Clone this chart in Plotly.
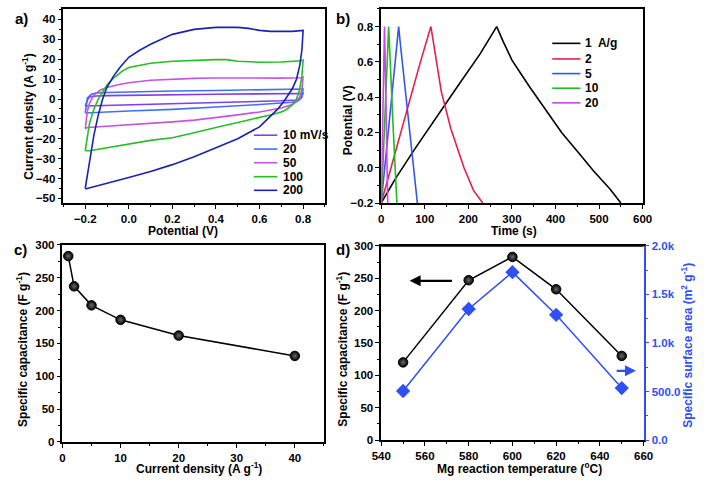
import plotly.graph_objects as go

# ---------------- data ----------------
# (a) CV curves: forward (anodic) and reverse branches
cv_labels = ["10 mV/s", "20", "50", "100", "200"]
cv_colors = ["#7f3fe6", "#3f6fff", "#c455e0", "#22c022", "#1a22b0"]

cv10_fv = [-0.2, -0.19, -0.18, -0.15, -0.1, 0.0, 0.2, 0.4, 0.6, 0.79, 0.8]
cv10_fj = [-3.5, -0.5, 1.0, 1.5, 1.7, 1.9, 2.2, 2.4, 2.6, 2.8, 2.8]
cv10_rv = [0.8, 0.79, 0.77, 0.7, 0.6, 0.4, 0.2, 0.0, -0.1, -0.2]
cv10_rj = [2.8, 0.5, -0.5, -0.9, -1.2, -1.8, -2.4, -2.9, -3.2, -3.5]

cv20_fv = [-0.2, -0.195, -0.19, -0.17, -0.15, -0.1, 0.0, 0.2, 0.4, 0.6, 0.79, 0.8]
cv20_fj = [-7.0, -3.0, 0.5, 2.5, 3.0, 3.3, 3.6, 4.0, 4.3, 4.6, 4.8, 5.0]
cv20_rv = [0.8, 0.795, 0.78, 0.75, 0.7, 0.6, 0.4, 0.2, 0.0, -0.1, -0.2]
cv20_rj = [5.0, 1.0, -0.8, -1.6, -2.0, -2.8, -4.0, -5.2, -6.0, -6.5, -7.0]

cv50_fv = [-0.2, -0.195, -0.19, -0.18, -0.16, -0.13, -0.1, -0.05, 0.0, 0.1, 0.2, 0.3, 0.4, 0.5, 0.6, 0.7, 0.79, 0.8]
cv50_fj = [-15, -10, -6, -2, 2, 4.5, 5.8, 7.2, 8.2, 9.4, 10.0, 10.4, 10.6, 10.5, 10.4, 10.5, 10.7, 11.0]
cv50_rv = [0.8, 0.795, 0.785, 0.77, 0.75, 0.7, 0.6, 0.5, 0.4, 0.3, 0.2, 0.1, 0.0, -0.1, -0.19, -0.2]
cv50_rj = [11, 5, 1, -1.5, -2.8, -4.5, -6.5, -8, -9.3, -10.6, -11.5, -12.3, -13, -13.8, -14.3, -15]

cv100_fv = [-0.2, -0.19, -0.18, -0.16, -0.14, -0.12, -0.1, -0.07, -0.03, 0.0, 0.05, 0.1, 0.2, 0.3, 0.4, 0.45, 0.5, 0.6, 0.7, 0.79, 0.8]
cv100_fj = [-26, -18, -12, -5, 0, 3.5, 7, 10.5, 14, 15.8, 17, 18, 19, 19.5, 19.8, 19.8, 19, 18.5, 18.6, 19.2, 19.6]
cv100_rv = [0.8, 0.795, 0.785, 0.77, 0.75, 0.72, 0.7, 0.65, 0.6, 0.5, 0.4, 0.3, 0.2, 0.1, 0.0, -0.1, -0.18, -0.2]
cv100_rj = [19.6, 12, 5, 0, -3, -5.5, -6.5, -8, -9.2, -11.8, -14.3, -17, -19.5, -20.8, -22.8, -24.5, -26, -26]

cv200_fv = [-0.2, -0.19, -0.18, -0.16, -0.14, -0.12, -0.1, -0.07, -0.04, 0.0, 0.05, 0.1, 0.2, 0.3, 0.4, 0.5, 0.55, 0.6, 0.65, 0.7, 0.75, 0.8]
cv200_fj = [-45, -38, -30, -18, -8, 0, 6, 11.5, 16, 21, 24.5, 27.5, 32.5, 35, 36, 36, 35.5, 34.5, 34, 34, 34, 34.5]
cv200_rv = [0.8, 0.795, 0.785, 0.77, 0.75, 0.73, 0.71, 0.68, 0.64, 0.6, 0.5, 0.4, 0.3, 0.2, 0.1, 0.0, -0.1, -0.2]
cv200_rj = [34.5, 25, 17, 10, 5, 1.5, -1.5, -5.5, -10, -14, -20, -24.5, -29, -33, -36.5, -39.5, -42.5, -45.3]

# (b) galvanostatic charge/discharge
gcd_labels = ["1  A/g", "2", "5", "10", "20"]
gcd_colors = ["#000000", "#e8204a", "#3355ee", "#22bb22", "#cc44ee"]
gcd1_t = [0, 10, 33, 78, 127, 175, 227, 265, 280, 300, 340, 376, 414, 451, 488, 525, 550]
gcd1_v = [-0.2, -0.16, -0.06, 0.11, 0.29, 0.46, 0.645, 0.8, 0.715, 0.61, 0.46, 0.33, 0.2, 0.09, -0.02, -0.12, -0.2]
gcd2_t = [0, 10, 30, 60, 90, 114, 123, 138, 160, 190, 212, 233]
gcd2_v = [-0.2, -0.11, 0.07, 0.34, 0.6, 0.8, 0.66, 0.43, 0.22, 0.0, -0.13, -0.2]
gcd5_t = [0, 4, 20, 40, 44, 55, 65, 75, 83]
gcd5_v = [-0.2, -0.1, 0.33, 0.8, 0.7, 0.45, 0.22, 0.02, -0.2]
gcd10_t = [0, 2, 17, 19, 27, 36]
gcd10_v = [-0.2, -0.1, 0.8, 0.68, 0.25, -0.2]
gcd20_t = [0, 1, 7.5, 8.5, 15]
gcd20_v = [-0.2, -0.08, 0.8, 0.68, -0.2]

# (c) rate capability
cd_current = [1, 2, 5, 10, 20, 40]
cd_capacitance = [283, 237, 208, 186, 162, 131]

# (d) Mg reaction temperature
temp = [550, 580, 600, 620, 650]
temp_capacitance = [120, 247, 283, 233, 130]
temp_ssa = [505, 1350, 1730, 1290, 535]

# ---------------- figure ----------------
W, H = 709, 486
FONT = "Liberation Sans, Arial, sans-serif"
BLUE = "#2f4ff5"

def px(x):
    return x / W

def py(y):
    return 1 - y / H

fig = go.Figure()

cv_sets = [(cv10_fv, cv10_fj, cv10_rv, cv10_rj), (cv20_fv, cv20_fj, cv20_rv, cv20_rj),
           (cv50_fv, cv50_fj, cv50_rv, cv50_rj), (cv100_fv, cv100_fj, cv100_rv, cv100_rj),
           (cv200_fv, cv200_fj, cv200_rv, cv200_rj)]
for lab, col, (fv, fj, rv, rj) in zip(cv_labels, cv_colors, cv_sets):
    fig.add_trace(go.Scatter(x=fv + rv, y=fj + rj, mode="lines", name=lab,
                             line=dict(color=col, width=1.6), xaxis="x", yaxis="y",
                             showlegend=False))

gcd_sets = [(gcd1_t, gcd1_v), (gcd2_t, gcd2_v), (gcd5_t, gcd5_v), (gcd10_t, gcd10_v), (gcd20_t, gcd20_v)]
for lab, col, (t, v) in zip(gcd_labels, gcd_colors, gcd_sets):
    fig.add_trace(go.Scatter(x=t, y=v, mode="lines", name=lab, line=dict(color=col, width=1.6),
                             xaxis="x2", yaxis="y2", showlegend=False))

sphere = dict(color="black", size=9.5, gradient=dict(type="radial", color="#6a6a6a"),
              line=dict(color="black", width=1))
fig.add_trace(go.Scatter(x=cd_current, y=cd_capacitance, mode="lines+markers",
                         line=dict(color="black", width=1.5), marker=sphere,
                         xaxis="x3", yaxis="y3", showlegend=False))

fig.add_trace(go.Scatter(x=temp, y=temp_capacitance, mode="lines+markers",
                         line=dict(color="black", width=1.5), marker=sphere,
                         xaxis="x4", yaxis="y4", showlegend=False))
fig.add_trace(go.Scatter(x=temp, y=temp_ssa, mode="lines+markers",
                         line=dict(color=BLUE, width=1.5),
                         marker=dict(symbol="diamond", size=11, color=BLUE),
                         xaxis="x4", yaxis="y5", showlegend=False))

tickfont = dict(family=FONT, size=11.5, color="black", weight="bold")

def axis(domain, rng, dtick, minor, anchor, color="black", mirror=True, **kw):
    d = dict(domain=domain, range=rng, dtick=dtick, tick0=0, anchor=anchor,
             showline=True, linecolor=color, linewidth=1.5, mirror=mirror,
             ticks="outside", ticklen=4, tickwidth=1.3, tickcolor=color,
             minor=dict(ticks="outside", ticklen=2.5, tickwidth=1, dtick=minor, tickcolor=color),
             showgrid=False, zeroline=False, tickfont=dict(tickfont, color=color))
    d.update(kw)
    return d

ax_a = [px(55), px(324)]
ay_a = [py(202), py(3)]
ax_b = [px(382), px(651)]
ay_b = [py(202), py(3)]
ax_c = [px(54), px(323)]
ay_c = [py(447), py(245)]
ax_d = [px(382), px(652)]
ay_d = [py(445), py(246)]

fig.update_layout(
    width=W, height=H, margin=dict(l=0, r=0, t=0, b=0),
    paper_bgcolor="white", plot_bgcolor="white",
    font=dict(family=FONT, color="black"),
    xaxis=axis(ax_a, [-0.3, 0.9], 0.2, 0.1, "y", tickformat=".1f"),
    yaxis=axis(ay_a, [-52.3, 45.3], 10, 5, "x"),
    xaxis2=axis(ax_b, [0, 600], 100, 50, "y2"),
    yaxis2=axis(ay_b, [-0.2, 0.9], 0.2, 0.1, "x2", tick0=-0.2, tickformat=".1f"),
    xaxis3=axis(ax_c, [0, 45], 10, 5, "y3"),
    yaxis3=axis(ay_c, [0, 300], 50, 25, "x3"),
    xaxis4=axis(ax_d, [540, 660], 20, 10, "y4"),
    yaxis4=axis(ay_d, [0, 300], 50, 25, "x4", mirror=False),
    yaxis5=axis(ay_d, [0, 2000], 500, 250, "x4", color=BLUE, mirror=False,
                overlaying="y4", side="right",
                tickmode="array", tickvals=[0, 500, 1000, 1500, 2000],
                ticktext=["0.0", "500.0", "1.0k", "1.5k", "2.0k"]),
)
# top border for panel d
fig.add_shape(type="line", xref="paper", yref="paper", x0=ax_d[0], x1=ax_d[1], y0=ay_d[1], y1=ay_d[1],
              line=dict(color="black", width=1.5))

ann = []
def text(x, y, s, size=12, angle=0, color="black", xanchor="center"):
    ann.append(dict(x=px(x), y=py(y), xref="paper", yref="paper", text=s, showarrow=False,
                    textangle=angle, xanchor=xanchor, yanchor="middle",
                    font=dict(family=FONT, size=size, color=color, weight="bold")))

# panel labels
text(12, 13, "a)", 15)
text(343, 13, "b)", 15)
text(11, 250, "c)", 15)
text(343, 250, "d)", 15)
# axis titles
text(178, 231, "Potential (V)")
text(19, 113, "Current density (A g<sup>-1</sup>)", angle=-90)
text(519, 231, "Time (s)")
text(348, 117, "Potential (V)", angle=-90)
text(194, 474, "Current density (A g<sup>-1</sup>)")
text(13, 352, "Specific capacitance (F g<sup>-1</sup>)", angle=-90)
text(524, 474, "Mg reaction temperature (<sup>o</sup>C)")
text(342, 352, "Specific capacitance (F g<sup>-1</sup>)", angle=-90)
text(697, 348, "Specific surface area (m<sup>2</sup> g<sup>-1</sup>)", angle=-90, color=BLUE)

# legends (a) and (b)
leg_a_y = [132.5, 146.7, 160.7, 175, 189]
for lab, col, yy in zip(cv_labels, cv_colors, leg_a_y):
    fig.add_shape(type="line", xref="paper", yref="paper", x0=px(251), x1=px(275), y0=py(yy), y1=py(yy),
                  line=dict(color=col, width=1.6))
    text(279, yy, lab, 12, xanchor="left")
leg_b_y = [38.3, 54.3, 69.3, 84.3, 99.3]
for lab, col, yy in zip(gcd_labels, gcd_colors, leg_b_y):
    fig.add_shape(type="line", xref="paper", yref="paper", x0=px(558), x1=px(587), y0=py(yy), y1=py(yy),
                  line=dict(color=col, width=1.6))
    text(590, yy, lab, 12, xanchor="left")

# arrows in (d)
ann.append(dict(x=553, y=246, ax=573, ay=246, xref="x4", yref="y4", axref="x4", ayref="y4",
                showarrow=True, arrowhead=2, arrowsize=1, arrowwidth=2.2, arrowcolor="black", text=""))
ann.append(dict(x=656.5, y=713, ax=647, ay=713, xref="x4", yref="y5", axref="x4", ayref="y5",
                showarrow=True, arrowhead=2, arrowsize=1, arrowwidth=2.2, arrowcolor=BLUE, text=""))

fig.update_layout(annotations=ann)
post = (
    "document.documentElement.style.margin='0';"
    "document.documentElement.style.overflow='hidden';"
    "document.body.style.margin='0';"
    "document.body.style.padding='0';"
    "document.body.style.overflow='hidden';"
)
fig.write_html("out.html", config={"displayModeBar": False}, post_script=post)
